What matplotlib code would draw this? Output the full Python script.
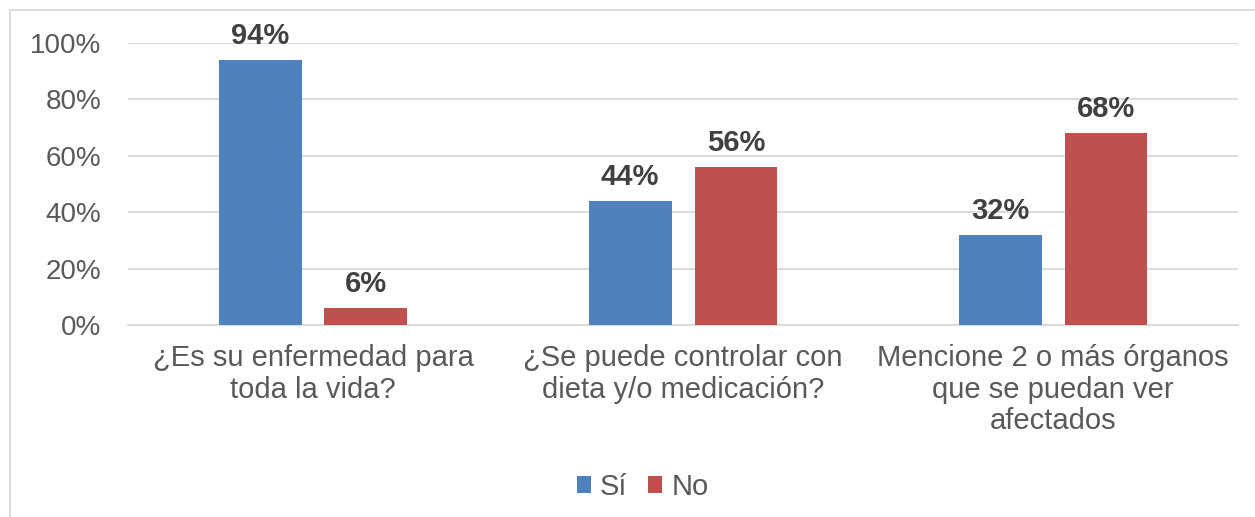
import numpy as np
import matplotlib.pyplot as plt
from matplotlib.patches import Rectangle

categories = ["¿Es su enfermedad para\ntoda la vida?",
              "¿Se puede controlar con\ndieta y/o medicación?",
              "Mencione 2 o más órganos\nque se puedan ver\nafectados"]
si_values = [0.94, 0.44, 0.32]
no_values = [0.06, 0.56, 0.68]
series_names = ["Sí", "No"]

plt.rcParams['font.family'] = ['Liberation Sans', 'DejaVu Sans']

fig = plt.figure(figsize=(12.55, 5.17), dpi=100)
ax = fig.add_axes([0.102, 0.3714, 0.8845, 0.5454])

x = np.arange(len(categories))
w = 0.224
off = 0.143
b1 = ax.bar(x - off, si_values, w, color='#4f81bd', label=series_names[0], zorder=3)
b2 = ax.bar(x + off, no_values, w, color='#c0504d', label=series_names[1], zorder=3)

for bars, vals in ((b1, si_values), (b2, no_values)):
    for b, v in zip(bars, vals):
        ax.text(b.get_x() + b.get_width() / 2, v + 0.035, f"{v:.0%}",
                ha='center', va='bottom', fontsize=21, fontweight='bold', color='#404040')

ax.set_xlim(-0.5, 2.5)
ax.set_ylim(0, 1)
ticks = np.arange(0, 1.01, 0.2)
ax.set_yticks(ticks)
ax.set_yticklabels([f"{int(round(t * 100))}%" for t in ticks])
ax.set_xticks(x)
ax.set_xticklabels(categories, linespacing=1.14)
ax.tick_params(axis='both', length=0, labelsize=20, colors='#595959')
ax.tick_params(axis='x', pad=14, labelsize=21)
ax.tick_params(axis='y', pad=19)
ax.yaxis.grid(True, color='#d9d9d9', linewidth=1.3, zorder=0)
for s in ['top', 'right', 'left']:
    ax.spines[s].set_visible(False)
ax.spines['bottom'].set_color('#d9d9d9')
ax.spines['bottom'].set_linewidth(1.3)

fig.legend(loc='center', bbox_to_anchor=(0.512, 0.058), ncol=2, frameon=False,
           fontsize=21, handlelength=0.5, handleheight=0.5, handletextpad=0.3,
           columnspacing=0.7, labelcolor='#595959')

fig.patches.append(Rectangle((10 / 1255, -0.01), 1.1, 0.99,
                             transform=fig.transFigure, fill=False,
                             edgecolor='#d9d9d9', linewidth=1.3))

fig.savefig("out.png", dpi=100)
